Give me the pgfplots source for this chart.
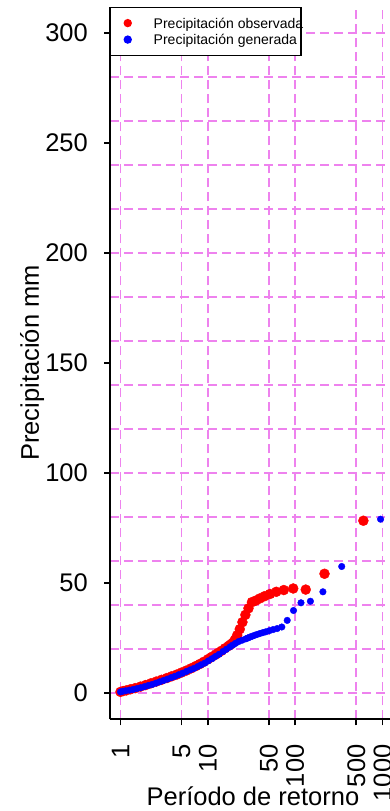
\documentclass[border=0pt]{standalone}
\usepackage{fontspec}
\setmainfont{Liberation Sans}
\usepackage{pgfplots}
\usepackage{pgfplotstable}
\pgfplotsset{compat=1.18}
\definecolor{gridviolet}{HTML}{EE82EE}

% Observed precipitation: return period (years) and precipitation (mm)
\pgfplotstableread{
T P
603.8 78.3
216.7 54.2
132.1 47.0
95.0 47.5
74.1 46.8
60.8 46.0
51.5 45.0
44.7 44.0
39.5 43.0
35.4 42.0
32.0 41.3
29.2 38.5
26.9 35.5
24.9 32.2
23.2 29.0
21.7 26.3
20.4 24.2
19.25 22.8
18.2 22.0
17.3 21.4
15.7 20.3
14.37 19.2
13.2 18.3
12.3 17.5
11.06 16.4
10.08 15.4
9.0 14.2
8.13 13.2
7.26 12.2
6.43 11.2
5.68 10.2
5.0 9.3
4.42 8.4
3.86 7.6
3.40 6.8
2.95 6.0
2.57 5.2
2.23 4.4
1.94 3.6
1.695 2.9
1.473 2.2
1.303 1.7
1.168 1.2
1.075 0.9
1.0 0.5
}\observada

% Generated precipitation: return period (years) and precipitation (mm)
\pgfplotstableread{
T P
950 79.0
341 57.5
207.8 46.0
149.4 41.7
116.6 41.0
95.7 37.5
81.1 33.0
70.3 30.0
62.2 29.3
55.7 28.8
50.4 28.3
46.0 27.8
42.4 27.4
39.2 27.0
36.5 26.6
34.2 26.2
32.1 25.8
30.3 25.4
28.7 25.0
27.2 24.6
24.7 24.0
22.6 23.4
20.8 22.6
19.3 21.8
18.0 21.0
16.34 19.9
14.96 18.9
13.45 17.6
12.21 16.6
11.19 15.6
10.13 14.6
9.24 13.6
8.37 12.8
7.65 12.0
6.95 11.2
6.29 10.5
5.69 9.8
5.14 9.0
4.64 8.3
4.20 7.6
3.81 7.0
3.44 6.3
3.12 5.7
2.82 5.1
2.55 4.5
2.31 3.9
2.08 3.4
1.883 2.9
1.702 2.4
1.540 2.0
1.394 1.6
1.262 1.3
1.143 1.0
1.065 0.8
1.000 0.5
}\generada

\begin{document}
\begin{tikzpicture}
\begin{pgfinterruptboundingbox}
\begin{axis}[
  at={(110bp,91.6bp)}, anchor=south west,
  scale only axis, width=283bp, height=712.8bp,
  xmode=log, log basis x=10,
  xmin=0.758578, xmax=1318.257,
  ymin=-12, ymax=312,
  axis x line*=bottom, axis y line*=left,
  x axis line style={-, line width=1.8bp, black},
  y axis line style={-, line width=1.8bp, black},
  xtick={1,5,10,50,100,500,1000},
  xticklabels={1,5,10,50,100,500,1000},
  minor xtick={},
  ytick={0,50,...,300},
  minor ytick={0,20,...,300},
  /pgf/number format/assume math mode=true,
  tick align=outside,
  major tick length=6bp, minor tick length=0pt,
  tick style={line width=1.6bp, black},
  xmajorgrids=true, ymajorgrids=false, yminorgrids=true,
  major grid style={gridviolet, line width=1.5bp, dash pattern=on 9bp off 5bp},
  minor grid style={gridviolet, line width=1.5bp, dash pattern=on 9bp off 5bp},
  tick label style={font=\fontsize{25.5bp}{30bp}\selectfont},
  yticklabel style={anchor=east, inner sep=0pt, xshift=-16bp},
  xticklabel style={rotate=90, anchor=east, inner sep=0pt, xshift=-19bp},
  every axis y label/.style={at={(axis description cs:-0.2509,0.5)}, rotate=90,
    anchor=base, font=\fontsize{25.5bp}{30bp}\selectfont},
  every axis x label/.style={at={(axis description cs:0.505,-0.1201)},
    anchor=base, font=\fontsize{25.5bp}{30bp}\selectfont},
  xlabel={Período de retorno},
  ylabel={Precipitación mm},
  legend style={at={(axis description cs:0,1)}, anchor=north west,
    draw=black, line width=1.5bp, fill=white,
    inner xsep=0pt, inner ysep=7.5bp,
    font=\fontsize{14bp}{16.5bp}\selectfont,
    nodes={inner sep=0pt, text height=13.5bp, text depth=3bp},
    row sep=0pt, column sep=0pt},
  legend cell align=left,
  legend image code/.code={%
    \path[draw=none, fill=none] (-17bp,-3bp) rectangle (26bp,3bp);
    \draw[#1, mark size=3.4bp] plot coordinates {(0bp,0bp)};
  },
]
\addplot[only marks, mark=*, red, mark size=5bp, mark options={draw=none, fill=red}]
  table[x=T, y=P] {\observada};
\addlegendentry{\makebox[147bp][l]{Precipitación observada}}
\addplot[only marks, mark=*, blue, mark size=3.3bp, mark options={draw=none, fill=blue}]
  table[x=T, y=P] {\generada};
\addlegendentry{\makebox[147bp][l]{Precipitación generada}}
\end{axis}
\end{pgfinterruptboundingbox}
\useasboundingbox (0,0) rectangle (390bp,811bp);
\end{tikzpicture}
\end{document}
